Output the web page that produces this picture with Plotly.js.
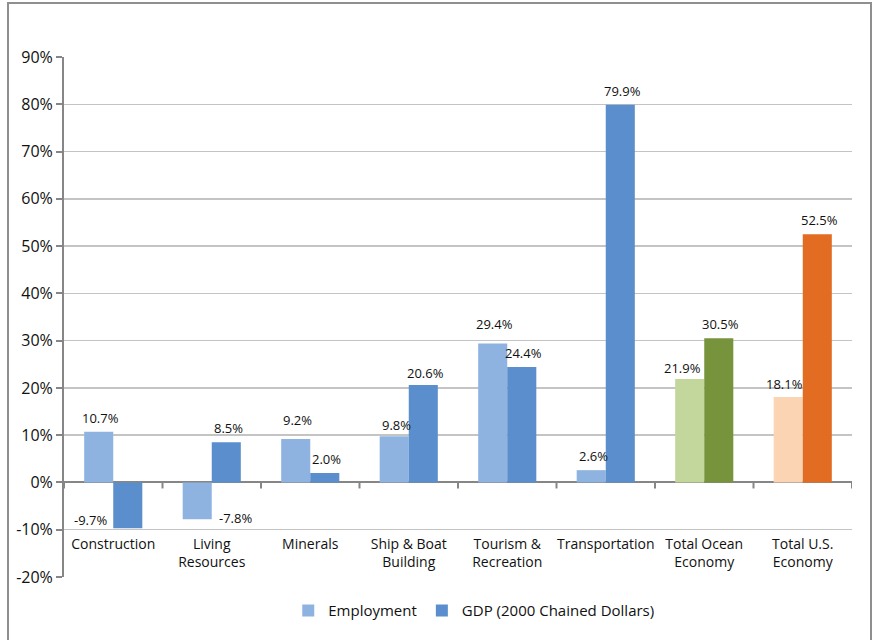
<!DOCTYPE html>
<html>
<head>
<meta charset="utf-8">
<script src="https://cdn.plot.ly/plotly-3.0.1.min.js"></script>
<style>
  html, body { margin: 0; padding: 0; background: #fff; }
  #wrap { position: relative; width: 873px; height: 640px; overflow: hidden; }
  #frame { position: absolute; left: 7px; top: 2px; width: 865px; height: 660px; border: 2px solid #8f8f8f; box-sizing: border-box; pointer-events: none; z-index: 5; }
  #chart { position: absolute; left: 0; top: 0; width: 873px; height: 640px; }
</style>
</head>
<body>
<div id="wrap">
  <div id="chart"></div>
  <div id="frame"></div>
</div>
<script>
// ---- data ----
const categories = ['Construction', 'Living<br>Resources', 'Minerals', 'Ship & Boat<br>Building',
                    'Tourism &<br>Recreation', 'Transportation', 'Total Ocean<br>Economy', 'Total U.S.<br>Economy'];
const employment = [10.7, -7.8, 9.2, 9.8, 29.4, 2.6, 21.9, 18.1];
const gdp = [-9.7, 8.5, 2.0, 20.6, 24.4, 79.9, 30.5, 52.5];
const seriesNames = ['Employment', 'GDP (2000 Chained Dollars)'];
const yTickVals = [-20, -10, 0, 10, 20, 30, 40, 50, 60, 70, 80, 90];

// ---- styles ----
const empColors = ['#8EB3E0', '#8EB3E0', '#8EB3E0', '#8EB3E0', '#8EB3E0', '#8EB3E0', '#C3D69B', '#FBD4B4'];
const gdpColors = ['#5A8ECC', '#5A8ECC', '#5A8ECC', '#5A8ECC', '#5A8ECC', '#5A8ECC', '#77933C', '#E36C23'];
const FONT = 'Open Sans, Noto Sans, sans-serif';
const TXT = '#111111';

const traces = [
  { type: 'bar', name: seriesNames[0], x: categories, y: employment,
    marker: { color: empColors }, hoverinfo: 'skip' },
  { type: 'bar', name: seriesNames[1], x: categories, y: gdp,
    marker: { color: gdpColors }, hoverinfo: 'skip' }
];

// label placement (pixel offsets relative to the bar)
const half = 14.5;
const labelOverrides = {
  'e1': { xshift: 36, yshift: 1 },   // Living Resources employment (negative)
  'g0': { xshift: -39, yshift: 8 },  // Construction GDP (negative)
  'e6': { xshift: -9, yshift: 11 },
  'e7': { xshift: -6, yshift: 13 },
  'e2': { yshift: 19 },
  'e4': { yshift: 19 },
  'e3': { yshift: 11 },
  'g3': { yshift: 12 }
};
const annotations = [];
function addLabels(vals, key, side) {
  vals.forEach((v, i) => {
    const o = labelOverrides[key + i] || {};
    annotations.push({
      xref: 'x', yref: 'y', x: categories[i], y: v,
      text: v.toFixed(1) + '%', showarrow: false,
      xanchor: 'center', yanchor: 'middle',
      xshift: side * half + 2 + (o.xshift || 0),
      yshift: (o.yshift !== undefined ? o.yshift : 14),
      font: { family: FONT, size: 13, color: TXT }
    });
  });
}
addLabels(employment, 'e', -1);
addLabels(gdp, 'g', 1);

// category-boundary tick marks on the zero line
const shapes = [];
for (let k = 0; k <= categories.length; k++) {
  shapes.push({ type: 'line', xref: 'x', yref: 'y', x0: k - 0.5, x1: k - 0.5,
    ysizemode: 'pixel', yanchor: 0, y0: 0, y1: -6,
    line: { color: '#868686', width: 2 } });
}

const layout = {
  width: 873, height: 640,
  margin: { l: 64, r: 21, t: 57, b: 63 },
  paper_bgcolor: '#fff', plot_bgcolor: '#fff',
  font: { family: FONT, color: TXT },
  barmode: 'group', bargap: 0.41, bargroupgap: 0,
  xaxis: {
    type: 'category', anchor: 'free', position: 10 / 110,
    showline: false, ticks: '', showgrid: false,
    ticklabelstandoff: 4,
    tickfont: { family: FONT, size: 14, color: TXT },
    range: [-0.5, 7.5], fixedrange: true
  },
  yaxis: {
    range: [-20, 90], tickvals: yTickVals, ticktext: yTickVals.map(v => v + '%'),
    showgrid: true, gridcolor: '#c4c4c4', gridwidth: 1.5,
    zeroline: true, zerolinecolor: '#868686', zerolinewidth: 2,
    showline: true, linecolor: '#868686', linewidth: 2,
    ticks: 'outside', ticklen: 6, tickwidth: 2, tickcolor: '#868686',
    tickfont: { family: FONT, size: 16, color: TXT },
    fixedrange: true
  },
  showlegend: true,
  legend: {
    orientation: 'h', x: 0.52, xanchor: 'center', y: -0.065, yanchor: 'middle',
    font: { family: FONT, size: 15, color: TXT },
    itemclick: false, traceorder: 'normal'
  },
  annotations: annotations,
  shapes: shapes
};

Plotly.newPlot('chart', traces, layout, { displayModeBar: false, staticPlot: true });
</script>
</body>
</html>
